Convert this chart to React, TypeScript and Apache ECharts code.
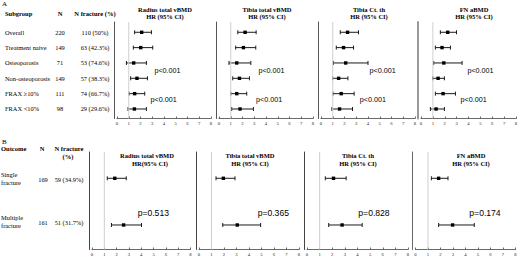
import React, { useEffect, useRef } from "react";
import * as echarts from "echarts";

// ---------- Data ----------
const subgroups = ["Overall", "Treatment naive", "Osteoporosis", "Non-osteoporosis", "FRAX \u226510%", "FRAX <10%"];
const subgroupN = ["220", "149", "71", "149", "111", "98"];
const subgroupFx = ["110 (50%)", "63 (42.3%)", "53 (74.6%)", "57 (38.3%)", "74 (66.7%)", "29 (29.6%)"];

// [HR, lower, upper]
const radiusA = [[2.1, 1.5, 2.93], [2.02, 1.39, 3.04], [1.42, 0.8, 2.5], [1.7, 1.16, 2.59], [1.5, 1.02, 2.36], [1.48, 0.94, 2.5]];
const tibiaA = [[2.22, 1.6, 3.16], [2.08, 1.42, 3.13], [1.51, 0.85, 2.71], [1.74, 1.17, 2.59], [1.51, 1.0, 2.36], [1.79, 1.08, 2.93]];
const ctA = [[2.26, 1.64, 3.19], [1.92, 1.3, 2.77], [2.1, 1.05, 4.0], [1.5, 0.99, 2.29], [1.72, 1.02, 2.82], [1.58, 0.93, 2.68]];
const fnA = [[2.25, 1.63, 2.99], [1.77, 1.21, 2.48], [1.92, 1.07, 3.46], [1.44, 0.99, 1.97], [1.86, 1.21, 2.9], [1.27, 0.79, 1.97]];

const outcomes = [["Single", "fracture"], ["Multiple", "fracture"]];
const outcomeN = ["169", "161"];
const outcomeFx = ["59 (34.9%)", "51 (31.7%)"];

const radiusB = [[1.85, 1.24, 2.78], [2.57, 1.58, 4.02]];
const tibiaB = [[1.95, 1.36, 2.88], [3.06, 1.9, 4.93]];
const ctB = [[2.1, 1.45, 3.1], [2.78, 1.72, 4.37]];
const fnB = [[1.85, 1.27, 2.6], [2.97, 1.85, 4.7]];

const panelTitles = ["Radius total vBMD", "Tibia total vBMD", "Tibia Ct. th", "FN aBMD"];
const pA = [["p<0.001", "p<0.001"], ["p<0.001", "p<0.001"], ["p<0.001", "p<0.001"], ["p<0.001", "p<0.001"]];
const pB = ["p=0.513", "p=0.365", "p=0.828", "p=0.174"];

const SERIF = "'Liberation Serif', 'Times New Roman', serif";
const SANS = "'Liberation Sans', Arial, sans-serif";

// layout (pixels)
const gridsA = [
  { left: 117, width: 94, tc: 165, lineColor: "#555", lineW: 1 },
  { left: 219, width: 94, tc: 267, lineColor: "#555", lineW: 1 },
  { left: 321, width: 94, tc: 369, lineColor: "#555", lineW: 1 },
  { left: 421, width: 95, tc: 474, lineColor: "#999", lineW: 2 },
];
const gridsB = [
  { left: 92, width: 98.5, tc: 147, lineColor: "#444", lineW: 1 },
  { left: 199, width: 100, tc: 250, lineColor: "#444", lineW: 1 },
  { left: 307, width: 101, tc: 358, lineColor: "#444", lineW: 1 },
  { left: 415.5, width: 100, tc: 471, lineColor: "#666", lineW: 1 },
];
const A_TOP = 22, A_H = 96.5, A_MIN = -0.67, A_MAX = 5.62;
const B_TOP = 152, B_H = 97.5, B_MIN = -0.563, B_MAX = 1.525;
const pPosA = [[[167.5, 70.7], [163.7, 99]], [[271.5, 70.5], [269.2, 99]], [[382.7, 70.7], [372.8, 99]], [[480.5, 70.7], [473.7, 99]]];
const pPosB = [[153.3, 212.5], [273.3, 212.5], [374, 212.5], [485, 212.5]];

function txt(text: string, x: number, y: number, o: any = {}) {
  return {
    type: "text",
    x,
    y,
    silent: true,
    style: {
      text,
      fill: o.fill || "#000",
      fontSize: o.size || 6.5,
      fontFamily: o.family || SERIF,
      fontWeight: o.bold ? "bold" : "normal",
      align: o.align || "left",
      verticalAlign: "middle",
    },
  };
}

function renderCI(params: any, api: any) {
  const row = api.value(0);
  const hr = api.value(1);
  const lo = api.value(2);
  const hi = api.value(3);
  const p = api.coord([hr, row]);
  const l = api.coord([lo, row]);
  const h = api.coord([hi, row]);
  const st = { stroke: "#1a1a1a", lineWidth: 1 };
  return {
    type: "group",
    children: [
      { type: "line", shape: { x1: l[0], y1: l[1], x2: h[0], y2: h[1] }, style: st },
      { type: "line", shape: { x1: l[0], y1: l[1] - 2, x2: l[0], y2: l[1] + 2 }, style: st },
      { type: "line", shape: { x1: h[0], y1: h[1] - 2, x2: h[0], y2: h[1] + 2 }, style: st },
      { type: "rect", shape: { x: p[0] - 1.7, y: p[1] - 1.7, width: 3.4, height: 3.4 }, style: { fill: "#000" } },
    ],
  };
}

export default function App() {
  const ref = useRef<HTMLDivElement>(null);
  useEffect(() => {
    if (!ref.current) return;
    document.body.style.margin = "0";
    const chart = echarts.init(ref.current, null, { renderer: "svg" });

    const grid: any[] = [];
    const xAxis: any[] = [];
    const yAxis: any[] = [];
    const series: any[] = [];
    const graphic: any[] = [];

    const addPanel = (g: any, top: number, h: number, ymin: number, ymax: number, rows: number[][]) => {
      const i = grid.length;
      grid.push({ left: g.left, top, width: g.width, height: h, containLabel: false, outerBoundsMode: "none" });
      xAxis.push({
        type: "value",
        gridIndex: i,
        min: 0,
        max: 8,
        interval: 1,
        axisLine: { show: true, onZero: false, lineStyle: { color: "#444", width: 0.8 } },
        axisTick: { show: true, inside: true, length: 2, lineStyle: { color: "#444", width: 0.8 } },
        axisLabel: { fontSize: 4.6, fontFamily: SERIF, color: "#222", margin: 2 },
        splitLine: { show: false },
      });
      yAxis.push({
        type: "value",
        gridIndex: i,
        inverse: true,
        min: ymin,
        max: ymax,
        offset: 3,
        axisLine: { show: true, onZero: false, lineStyle: { color: g.lineColor, width: g.lineW } },
        axisTick: { show: false },
        axisLabel: { show: false },
        splitLine: { show: false },
      });
      series.push({
        type: "line",
        xAxisIndex: i,
        yAxisIndex: i,
        data: [[1, ymin], [1, ymax]],
        symbol: "none",
        silent: true,
        lineStyle: { color: "#cfcfcf", width: 1 },
      });
      series.push({
        type: "custom",
        xAxisIndex: i,
        yAxisIndex: i,
        renderItem: renderCI,
        encode: { x: [1, 2, 3], y: 0 },
        data: rows.map((r, k) => [k, r[0], r[1], r[2]]),
        silent: true,
      });
    };

    const dataA = [radiusA, tibiaA, ctA, fnA];
    const dataB = [radiusB, tibiaB, ctB, fnB];
    gridsA.forEach((g, k) => addPanel(g, A_TOP, A_H, A_MIN, A_MAX, dataA[k]));
    gridsB.forEach((g, k) => addPanel(g, B_TOP, B_H, B_MIN, B_MAX, dataB[k]));

    // Panel A texts
    graphic.push(txt("A", 2, 4, { size: 7 }));
    graphic.push(txt("Subgroup", 5, 13.3, { bold: true, size: 6.5 }));
    graphic.push(txt("N", 60, 13.3, { bold: true, size: 6.5, align: "center" }));
    graphic.push(txt("N fracture (%)", 95, 13.3, { bold: true, size: 6.5, align: "center" }));
    const rowYA = (k: number) => A_TOP + (A_H * (k - A_MIN)) / (A_MAX - A_MIN);
    subgroups.forEach((s, k) => {
      const y = rowYA(k);
      graphic.push(txt(s, 5, y, { size: 6.4 }));
      graphic.push(txt(subgroupN[k], 60, y, { size: 6.4, align: "center" }));
      graphic.push(txt(subgroupFx[k], 95, y, { size: 6.4, align: "center" }));
    });
    gridsA.forEach((g, k) => {
      graphic.push(txt(panelTitles[k], g.tc, 9, { bold: true, size: 6.5, align: "center" }));
      graphic.push(txt("HR (95% CI)", g.tc, 16.8, { bold: true, size: 6.5, align: "center" }));
      pA[k].forEach((p, j) => {
        graphic.push(txt(p, pPosA[k][j][0], pPosA[k][j][1], { size: 7.2, family: SANS, align: "center" }));
      });
    });

    // Panel B texts
    graphic.push(txt("B", 2, 141.5, { size: 7 }));
    graphic.push(txt("Outcome", 1, 148.7, { bold: true, size: 6.5 }));
    graphic.push(txt("N", 42, 148.7, { bold: true, size: 6.5, align: "center" }));
    graphic.push(txt("N fracture", 69, 148.7, { bold: true, size: 6.5, align: "center" }));
    graphic.push(txt("(%)", 68, 156.3, { bold: true, size: 6.5, align: "center" }));
    const rowYB = (k: number) => B_TOP + (B_H * (k - B_MIN)) / (B_MAX - B_MIN);
    outcomes.forEach((o, k) => {
      const y = rowYB(k) - (k === 0 ? 0 : 3);
      graphic.push(txt(o[0], 1, y - 4, { size: 6.4 }));
      graphic.push(txt(o[1], 1, y + 4, { size: 6.4 }));
      graphic.push(txt(outcomeN[k], 43, y + 1, { size: 6.4, align: "center" }));
      graphic.push(txt(outcomeFx[k], 69, y + 1, { size: 6.4, align: "center" }));
    });
    gridsB.forEach((g, k) => {
      graphic.push(txt(panelTitles[k], g.tc, 155, { bold: true, size: 6.5, align: "center" }));
      graphic.push(txt(k === 0 ? "HR(95% CI)" : "HR (95% CI)", g.tc + (k === 0 ? 3 : 0), 163.3, { bold: true, size: 6.5, align: "center" }));
      graphic.push(txt(pB[k], pPosB[k][0], pPosB[k][1], { size: 8.6, family: SANS, align: "center" }));
    });

    chart.setOption({
      animation: false,
      backgroundColor: "#fff",
      grid,
      xAxis,
      yAxis,
      series,
      graphic,
    });
    return () => chart.dispose();
  }, []);
  return <div ref={ref} style={{ position: "fixed", left: 0, top: 0, width: 520, height: 258 }} />;
}
